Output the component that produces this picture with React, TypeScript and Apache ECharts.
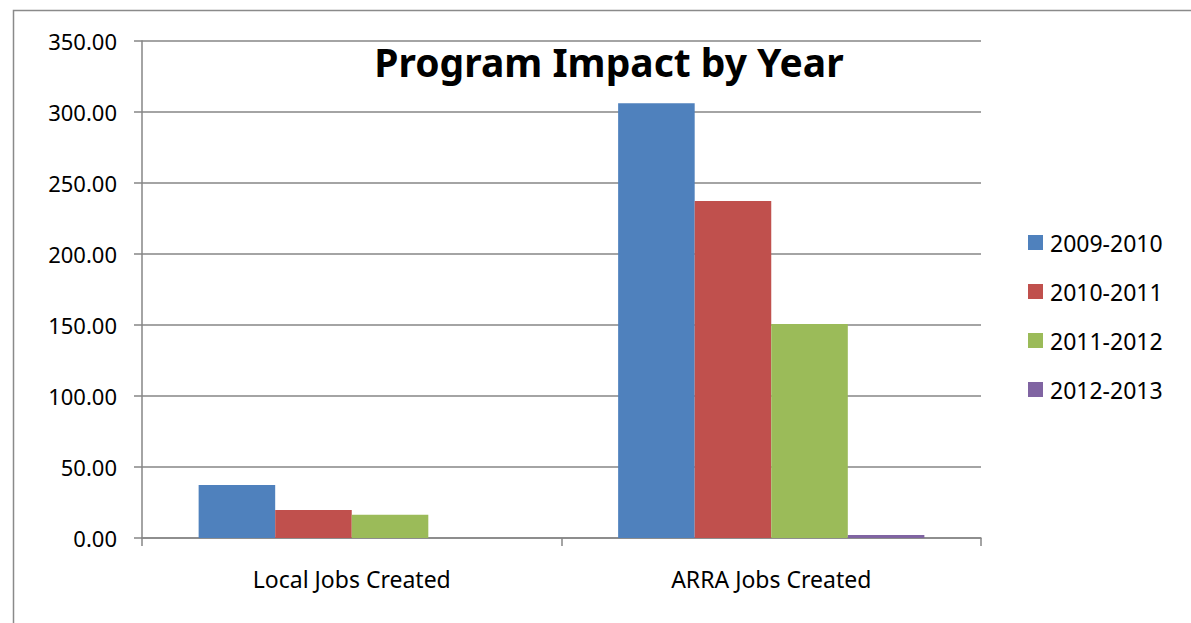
import React, { useEffect, useRef } from "react";
import * as echarts from "echarts";

const categories = ["Local Jobs Created", "ARRA Jobs Created"];
const seriesNames = ["2009-2010", "2010-2011", "2011-2012", "2012-2013"];
const values2009 = [37.3, 306.2];
const values2010 = [19.7, 237.3];
const values2011 = [16.3, 150.7];
const values2012 = [0, 2.1];
const colors = ["#4F81BD", "#C0504D", "#9BBB59", "#8064A2"];

export default function App() {
  const ref = useRef<HTMLDivElement>(null);
  useEffect(() => {
    if (!ref.current) return;
    const chart = echarts.init(ref.current, undefined, { renderer: "svg" });
    const all = [values2009, values2010, values2011, values2012];
    const font = "Noto Sans, Liberation Sans, Arial, sans-serif";
    chart.setOption({
      animation: false,
      backgroundColor: "#fff",
      title: {
        text: "Program Impact by Year",
        left: 604,
        textAlign: "center",
        top: 37,
        textStyle: { fontFamily: font, fontSize: 39, fontWeight: "bold", color: "#000" },
      },
      graphic: [
        {
          type: "rect",
          shape: { x: 13.5, y: 10.5, width: 1300, height: 700 },
          style: { fill: "none", stroke: "#8a8a8a", lineWidth: 1.5 },
          silent: true,
        },
      ],
      legend: {
        orient: "vertical",
        left: 1023,
        top: 225,
        itemWidth: 15,
        itemHeight: 15,
        itemGap: 24,
        icon: "rect",
        data: seriesNames,
        textStyle: {
          fontFamily: font,
          fontSize: 23,
          lineHeight: 25,
          color: "#000",
          padding: [0, 0, 0, 2],
        },
      },
      grid: { left: 142, right: 210, top: 41, bottom: 85 },
      xAxis: {
        type: "category",
        data: categories,
        axisLine: { lineStyle: { color: "#868686", width: 1.5 } },
        axisTick: { show: true, length: 8, lineStyle: { color: "#868686", width: 1.5 } },
        axisLabel: { fontFamily: font, fontSize: 23, color: "#000", margin: 29 },
      },
      yAxis: {
        type: "value",
        min: 0,
        max: 350,
        interval: 50,
        axisLine: { show: true, lineStyle: { color: "#868686", width: 1.5 } },
        axisTick: { show: true, length: 8, lineStyle: { color: "#868686", width: 1.5 } },
        splitLine: { lineStyle: { color: "#868686", width: 1.5 } },
        axisLabel: {
          fontFamily: font,
          fontSize: 22,
          color: "#000",
          margin: 25,
          formatter: (v: number) => v.toFixed(2),
        },
      },
      series: seriesNames.map((name, i) => ({
        name,
        type: "bar",
        data: all[i],
        barGap: "0%",
        barCategoryGap: "27%",
        itemStyle: { color: colors[i] },
      })),
    });
    return () => chart.dispose();
  }, []);
  return (
    <div
      ref={ref}
      style={{ position: "fixed", left: 0, top: 0, width: 1191, height: 623 }}
    />
  );
}
